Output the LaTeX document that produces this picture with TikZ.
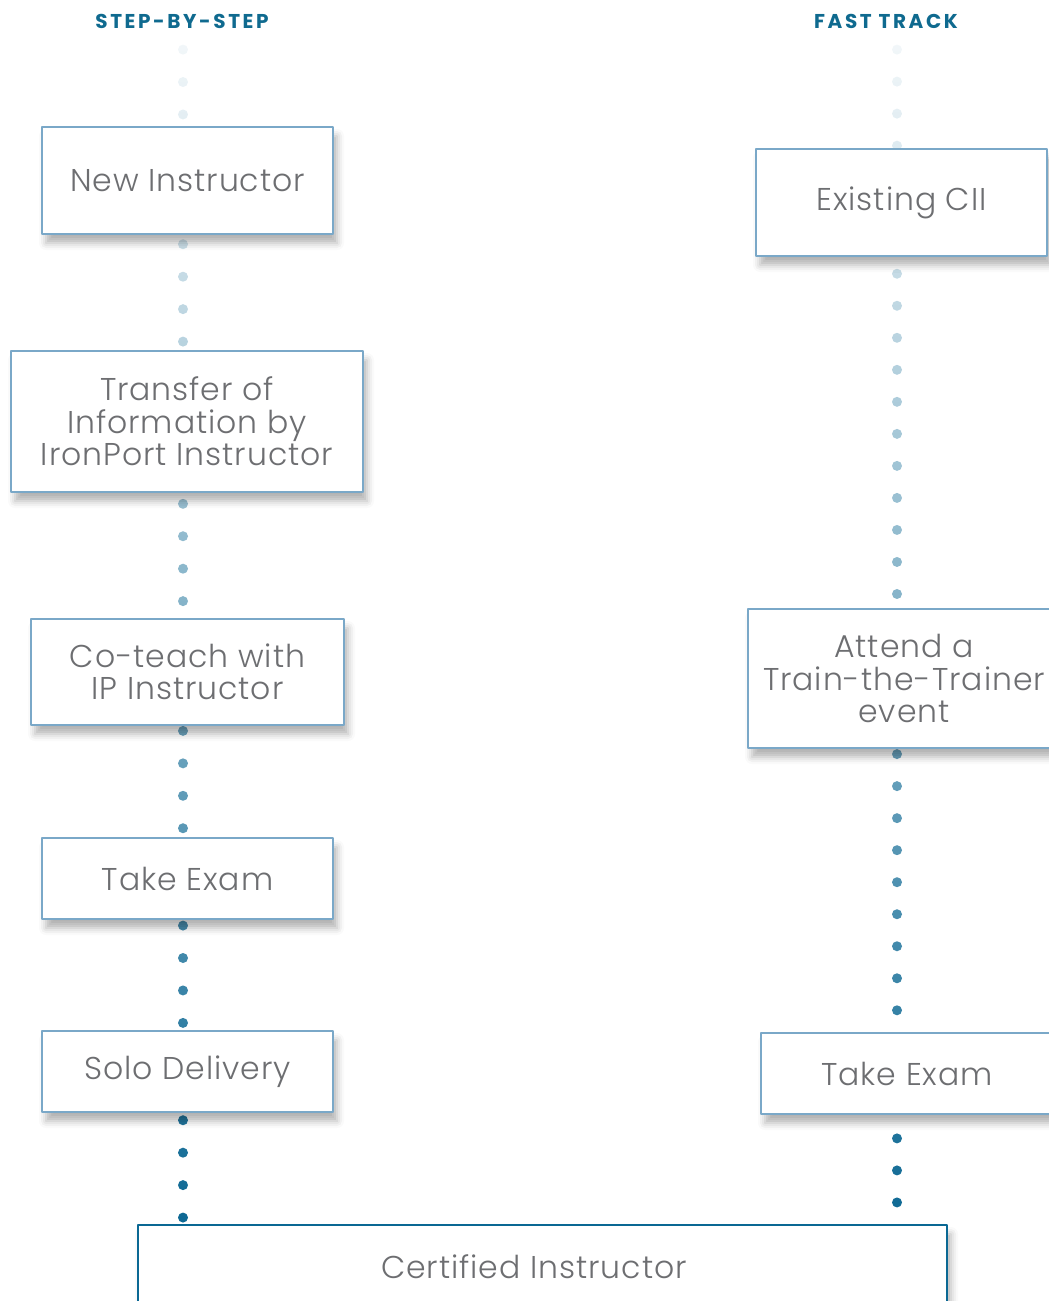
\documentclass[tikz,border=0pt]{standalone}
\usepackage{fontspec}
\setmainfont{Poppins Light}
\usetikzlibrary{fadings,shadows.blur,backgrounds}
\definecolor{headblue}{HTML}{0F6A8F}
\definecolor{boxline}{HTML}{7AA8C8}
\definecolor{certline}{HTML}{0A6893}
\definecolor{textgray}{HTML}{6D6E71}
\definecolor{dotblue}{HTML}{03628F}
\newfontfamily\headfont[LetterSpace=13]{Poppins Bold}
\tikzfading[name=dotfade, top color=transparent!95, middle color=transparent!37, bottom color=transparent!0]

\begin{document}
\begin{tikzpicture}[x=1pt, y=-1pt, line join=round,
    stepbox/.style={draw=boxline, line width=2.5pt, fill=white, text=textgray, align=center,
      font=\fontsize{31.5}{32.5}\selectfont\addfontfeatures{LetterSpace=3}, inner sep=0pt,
      blur shadow={shadow xshift=4pt, shadow yshift=-9pt, shadow blur radius=7pt, shadow opacity=30}},
    header/.style={text=headblue, font=\fontsize{20}{20}\headfont},
    dotline/.style={dotblue, line width=10pt, line cap=round, path fading=dotfade},
    dotL/.style={dotline, dash pattern=on 0pt off 32.45pt},
    dotR/.style={dotline, dash pattern=on 0pt off 32.03pt}]
    \useasboundingbox (0,0) rectangle (1049,1301);
    \clip (0,0) rectangle (1049,1301);
    % column heads
    \node[header] (headL) at (182,21) {STEP-BY-STEP};
    \node[header] (headR) at (886,21) {FAST TRACK};
    \coordinate (topL) at (183,49);
    \coordinate (topR) at (897,49);
    % step-by-step
    \node[stepbox, minimum width=291, minimum height=107] (new) at (187.5,180.5) {New Instructor};
    \node[stepbox, minimum width=352, minimum height=141] (transfer) at (187,421.5) {Transfer of\\Information by\\IronPort Instructor};
    \node[stepbox, minimum width=313, minimum height=106] (coteach) at (187.5,672) {Co-teach with\\IP Instructor};
    \node[stepbox, minimum width=291, minimum height=81] (examL) at (187.5,878.5) {Take Exam};
    \node[stepbox, minimum width=291, minimum height=81] (solo) at (187.5,1071.5) {Solo Delivery};
    % fast track
    \node[stepbox, minimum width=291, minimum height=107] (existing) at (901.5,202.5) {Existing CII};
    \node[stepbox, minimum width=312, minimum height=139] (attend) at (904,678.5) {Attend a\\Train-the-Trainer\\event};
    \node[stepbox, minimum width=292, minimum height=81] (examR) at (907,1073.5) {Take Exam};
    \node[stepbox, draw=certline, minimum width=809, minimum height=84] (cert) at (542.5,1267) {Certified Instructor\hspace*{17pt}};
    % dotted paths
    \begin{scope}[on background layer]
        \draw[dotL] (177,49) (189,49) (topL) -- (new.center -| topL) -- (transfer.center -| topL) -- (coteach.center -| topL)
            -- (examL.center -| topL) -- (solo.center -| topL) -- (cert.center -| topL);
        \draw[dotR] (891,49) (903,49) (topR) -- (existing.center -| topR) -- (attend.center -| topR)
            -- (examR.center -| topR) -- (cert.center -| topR);
    \end{scope}
\end{tikzpicture}
\end{document}
